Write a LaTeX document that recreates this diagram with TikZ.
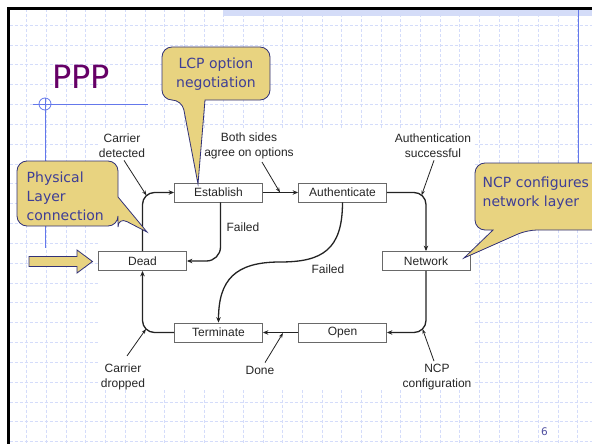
\documentclass[tikz,border=0pt]{standalone}
\usepackage{fontspec}
\setmainfont{Liberation Sans}
\newfontfamily\tah{DejaVu Sans}
\usetikzlibrary{arrows.meta,calc}
\definecolor{gridc}{RGB}{212,220,250}
\definecolor{bandc}{RGB}{212,220,248}
\definecolor{bluel}{RGB}{100,120,235}
\definecolor{callfill}{RGB}{232,211,128}
\definecolor{callborder}{RGB}{50,50,120}
\definecolor{ctext}{RGB}{62,62,150}
\definecolor{pppc}{RGB}{102,0,102}
\definecolor{linec}{RGB}{35,35,35}
\definecolor{boxc}{RGB}{105,105,105}
\definecolor{pnum}{RGB}{80,80,160}
\begin{document}
\begin{tikzpicture}[x=1pt,y=-1pt,
  gridline/.style={draw=gridc, line width=0.5pt, dash pattern=on 3pt off 2pt},
  box/.style={draw=boxc, fill=white, line width=0.8pt, minimum width=88pt, minimum height=19pt, inner sep=0pt, font=\fontsize{12}{14}\selectfont, text=black!85},
  conn/.style={draw=linec, line width=1.3pt, -{Stealth[length=5.5pt,width=4.5pt]}},
  ann/.style={draw=linec, line width=0.8pt, -{Stealth[length=5pt,width=3.5pt]}},
  lab/.style={font=\fontsize{12}{14.5}\selectfont, align=center, inner sep=0pt, text=black!85},
  callbox/.style={fill=callfill, draw=callborder, line width=0.8pt},
  calltxt/.style={font=\tah\fontsize{14}{19}\selectfont, text=ctext, inner sep=0pt},
]
\useasboundingbox (0,0) rectangle (592,444);
\clip (0,0) rectangle (592,444);
\fill[white] (0,0) rectangle (592,444);

% grid
\foreach \i in {0,...,28} { \draw[gridline] ({26.7+19.68*\i},9.5) -- ({26.7+19.68*\i},444); }
\foreach \j in {0,...,21} { \draw[gridline] (9.5,{25+19.83*\j}) -- (592,{25+19.83*\j}); }
% white picture area
\fill[white] (98,129) rectangle (473,390);
% top band
\fill[bandc] (223,10) rectangle (592,16.5);
% blue guide lines
\draw[bluel, line width=0.8pt] (33,104) -- (148,104);
\draw[bluel, line width=0.8pt] (45,98) -- (45,248);
\draw[bluel, line width=0.8pt] (45,104) circle (6);
\draw[bluel, line width=0.8pt] (578,9) -- (578,163);
% slide border
\draw[black, line width=3pt] (8.3,444) -- (8.3,8.3) -- (592,8.3);

% title
\node[font=\tah\fontsize{32}{36}\selectfont, text=pppc, inner sep=0pt] (title) at (81,77) {PPP};

% states
\node[box] (dead) at (142.5,261) {Dead};
\node[box] (est)  at (218.5,192.5) {Establish};
\node[box] (auth) at (342.5,192.5) {Authenticate};
\node[box] (net)  at (426,261) {Network};
\node[box] (term) at (218.5,332.5) {Terminate};
\node[box] (open) at (342.5,332.5) {Open};

% transitions
\draw[conn, rounded corners=12] (dead.north) |- (est.west);
\draw[conn] (est.east) -- (auth.west);
\draw[conn, rounded corners=12] (auth.east) -| (net.north);
\draw[conn, rounded corners=12] (net.south) |- (open.east);
\draw[conn] (open.west) -- (term.east);
\draw[conn, rounded corners=12] (term.west) -| (dead.south);
\draw[conn, rounded corners=14] ([xshift=2pt]est.south) |- (dead.east);
\draw[conn] (auth.south) .. controls (342.5,250) and (322,262) .. (280,262) .. controls (235,262) and (218.5,280) .. (term.north);

% labels
\node[lab] (cdet) at (122,145.5) {Carrier\\detected};
\node[lab] (both) at (249,146) {Both sides\\agree on options};
\node[lab] (asucc) at (433,145.5) {Authentication\\successful};
\node[lab] (fail1) at (243,227) {Failed};
\node[lab] (fail2) at (328,269) {Failed};
\node[lab] (cdrop) at (123,377) {Carrier\\dropped};
\node[lab] (done) at (260,370) {Done};
\node[lab] (ncpc) at (437,377) {NCP\\configuration};

\coordinate (cdtip) at (146.5,195.5);
\coordinate (bstip) at (280,192.5);
\coordinate (astip) at (421.5,195.5);
\coordinate (drtip) at (146,329);
\coordinate (dntip) at (283,333);
\coordinate (nctip) at (422.5,329);
\draw[ann] ($(cdet.south)+(2,3)$) -- (cdtip);
\draw[ann] ($(both.south)+(13,3)$) -- (bstip);
\draw[ann] ($(asucc.south)+(1,3)$) -- (astip);
\draw[ann] ($(cdrop.north)+(4,-8)$) -- (drtip);
\draw[ann] ($(done.north)+(5,-3)$) -- (dntip);
\draw[ann] ($(ncpc.north)+(-3,-3)$) -- (nctip);

% callouts
\draw[callbox] (198,184) -- (205,100) [rounded corners=10] -- (270,100) -- (270,47) -- (162,47) -- (162,100) -- (182,100) [sharp corners] -- cycle;
\node[calltxt, align=center] (lcp) at (216,74.5) {LCP option\\negotiation};

\draw[callbox] (147,232) -- (118,197) [rounded corners=10] -- (118,161) -- (17,161) -- (17,226) -- (118,226) -- (118,217) [sharp corners] -- cycle;
\node[calltxt, align=left, anchor=west] (phys) at (26.5,196) {Physical\\Layer\\connection};

\draw[callbox] (464,258) -- (493,230) [rounded corners=10] -- (475,230) -- (475,163) -- (610,163) -- (610,230) -- (527,230) [sharp corners] -- cycle;
\node[calltxt, align=left, anchor=west] (ncp) at (482.5,193.5) {NCP configures\\network layer};

% entry arrow
\draw[callbox] (29,256.5) -- (77,256.5) -- (77,250) -- (92.5,261.5) -- (77,273) -- (77,266.5) -- (29,266.5) -- cycle;

% page number
\node[font=\tah\fontsize{10.5}{12}\selectfont, text=pnum, inner sep=0pt] (pg) at (544.5,432) {6};
\end{tikzpicture}
\end{document}
